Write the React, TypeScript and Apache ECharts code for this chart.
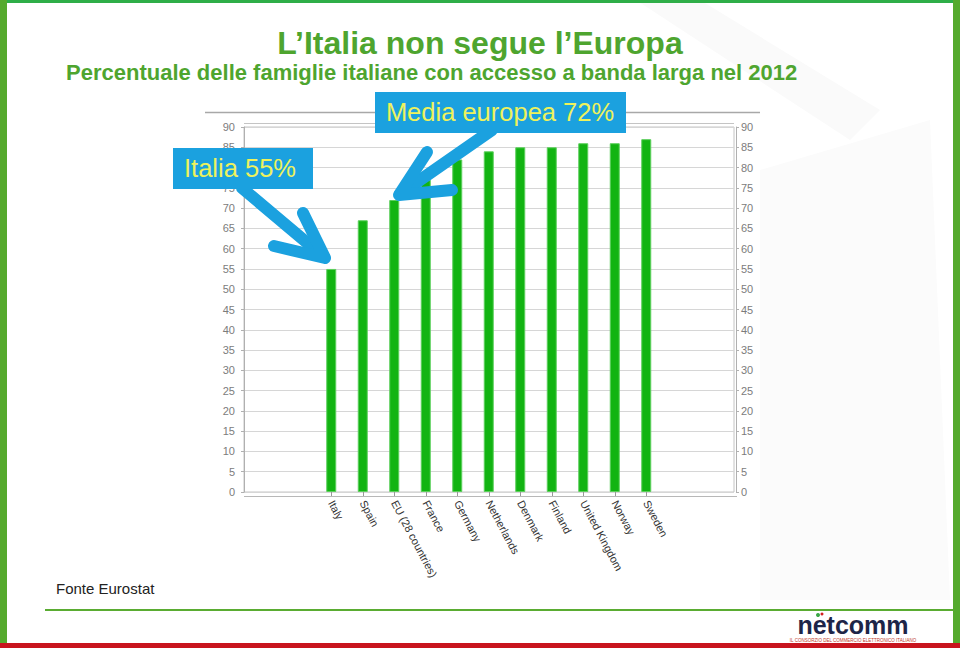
import React, { useEffect, useRef } from "react";
import * as echarts from "echarts";

const categories = [
  "Italy",
  "Spain",
  "EU (28 countries)",
  "France",
  "Germany",
  "Netherlands",
  "Denmark",
  "Finland",
  "United Kingdom",
  "Norway",
  "Sweden",
];
const values = [55, 67, 72, 77, 82, 84, 85, 85, 86, 86, 87];
const yMin = 0;
const yMax = 90;
const yStep = 5;

const titleText = "L\u2019Italia non segue l\u2019Europa";
const subtitleText = "Percentuale delle famiglie italiane con accesso a banda larga nel 2012";
const calloutEU = "Media europea 72%";
const calloutIT = "Italia 55%";
const sourceText = "Fonte Eurostat";

const GREEN_T = "#4ea52f";
const BLUE = "#1ba1df";
const YELLOW = "#eef25c";
const FONT = "Liberation Sans, Arial, sans-serif";

export default function App() {
  const ref = useRef<HTMLDivElement>(null);
  useEffect(() => {
    if (!ref.current) return;
    const chart = echarts.init(ref.current, null, { renderer: "svg" });
    const yLabel = { color: "#7c7c7c", fontSize: 11, fontFamily: FONT };
    const option: any = {
      animation: false,
      backgroundColor: "#ffffff",
      title: [
        {
          text: titleText,
          left: "center",
          top: 27,
          padding: 0,
          textStyle: { color: GREEN_T, fontSize: 32, fontWeight: "bold", fontFamily: FONT },
        },
        {
          text: subtitleText,
          left: 66,
          top: 61,
          padding: 0,
          textStyle: { color: GREEN_T, fontSize: 22, fontWeight: "bold", fontFamily: FONT },
        },
      ],
      grid: [
        {
          left: 244,
          top: 127,
          width: 490,
          height: 365,
          show: true,
          backgroundColor: "#ffffff",
          borderColor: "#c4c4c4",
          borderWidth: 1,
        },
        { left: 315.5, top: 127, width: 346.5, height: 365 },
      ],
      xAxis: [
        { gridIndex: 0, type: "value", min: 0, max: 1, show: false },
        {
          gridIndex: 1,
          type: "category",
          data: categories,
          axisLine: { show: false },
          axisTick: { show: true, alignWithLabel: true, length: 4, lineStyle: { color: "#999" } },
          axisLabel: {
            rotate: -62,
            margin: 9,
            color: "#333",
            fontSize: 11,
            fontFamily: FONT,
            interval: 0,
          },
        },
      ],
      yAxis: [
        {
          gridIndex: 0,
          type: "value",
          position: "left",
          min: yMin,
          max: yMax,
          interval: yStep,
          offset: 3,
          axisLine: { show: true, lineStyle: { color: "#b0b0b0" } },
          axisTick: { show: true, length: 3, lineStyle: { color: "#b0b0b0" } },
          axisLabel: { ...yLabel, margin: 6 },
          splitLine: { show: true, lineStyle: { color: "#d6d6d6" } },
        },
        {
          gridIndex: 0,
          type: "value",
          position: "right",
          min: yMin,
          max: yMax,
          interval: yStep,
          offset: 2,
          axisLine: { show: true, lineStyle: { color: "#b0b0b0" } },
          axisTick: { show: true, length: 3, lineStyle: { color: "#b0b0b0" } },
          axisLabel: { ...yLabel, margin: 5 },
          splitLine: { show: false },
        },
        { gridIndex: 1, type: "value", min: yMin, max: yMax, show: false },
      ],
      series: [
        {
          type: "bar",
          xAxisIndex: 1,
          yAxisIndex: 2,
          data: values,
          barWidth: 10,
          itemStyle: { color: "#12b412", borderColor: "#5ccf5c", borderWidth: 1 },
          z: 3,
        },
      ],
      graphic: {
        elements: [
          // faint background shapes
          {
            type: "polygon",
            z: -5,
            shape: { points: [[636, 0], [700, 0], [880, 110], [850, 140]] },
            style: { fill: "#fafafa" },
          },
          {
            type: "polygon",
            z: -5,
            shape: { points: [[760, 170], [930, 120], [950, 600], [760, 600]] },
            style: { fill: "#fbfbfb" },
          },
          // slide frame
          { type: "rect", shape: { x: 0, y: 0, width: 960, height: 3 }, style: { fill: "#2fae48" } },
          { type: "rect", shape: { x: 0, y: 0, width: 7, height: 643 }, style: { fill: "#55aa2e" } },
          { type: "rect", shape: { x: 953, y: 0, width: 7, height: 643 }, style: { fill: "#55aa2e" } },
          { type: "rect", shape: { x: 0, y: 643, width: 960, height: 5 }, style: { fill: "#c8141e" } },
          { type: "rect", shape: { x: 45, y: 609, width: 908, height: 2 }, style: { fill: "#5aac32" } },
          // chart decoration lines
          { type: "line", shape: { x1: 205, y1: 112.5, x2: 760, y2: 112.5 }, style: { stroke: "#a8a8a8", lineWidth: 1.5 } },
          { type: "line", shape: { x1: 244, y1: 123.5, x2: 734, y2: 123.5 }, style: { stroke: "#c4c4c4", lineWidth: 1 } },
          { type: "line", shape: { x1: 244, y1: 496.5, x2: 737, y2: 496.5 }, style: { stroke: "#b8b8b8", lineWidth: 1 } },
          // arrows
          {
            type: "polyline",
            z: 10,
            shape: { points: [[242, 188], [324, 257]] },
            style: { stroke: BLUE, lineWidth: 12, lineCap: "round", lineJoin: "round", fill: null },
          },
          {
            type: "polyline",
            z: 10,
            shape: { points: [[303, 213], [325, 258], [274, 246]] },
            style: { stroke: BLUE, lineWidth: 12, lineCap: "round", lineJoin: "round", fill: null },
          },
          {
            type: "polyline",
            z: 10,
            shape: { points: [[492, 130], [400, 194]] },
            style: { stroke: BLUE, lineWidth: 12, lineCap: "round", lineJoin: "round", fill: null },
          },
          {
            type: "polyline",
            z: 10,
            shape: { points: [[427, 152], [399, 195], [452, 190]] },
            style: { stroke: BLUE, lineWidth: 12, lineCap: "round", lineJoin: "round", fill: null },
          },
          // callout boxes
          { type: "rect", z: 11, shape: { x: 375, y: 92, width: 251, height: 41 }, style: { fill: BLUE } },
          {
            type: "text",
            z: 12,
            x: 500,
            y: 112,
            style: {
              text: calloutEU,
              fill: YELLOW,
              fontSize: 25.5,
              fontFamily: FONT,
              textAlign: "center",
              textVerticalAlign: "middle",
            },
          },
          { type: "rect", z: 11, shape: { x: 173, y: 148, width: 140, height: 41 }, style: { fill: BLUE } },
          {
            type: "text",
            z: 12,
            x: 240,
            y: 168,
            style: {
              text: calloutIT,
              fill: YELLOW,
              fontSize: 25.5,
              fontFamily: FONT,
              textAlign: "center",
              textVerticalAlign: "middle",
            },
          },
          // source
          {
            type: "text",
            x: 56,
            y: 588,
            style: {
              text: sourceText,
              fill: "#222222",
              fontSize: 15,
              fontFamily: FONT,
              textAlign: "left",
              textVerticalAlign: "middle",
            },
          },
          // logo
          {
            type: "text",
            x: 853,
            y: 625,
            style: {
              text: "netcomm",
              fill: "#1d2548",
              fontSize: 25,
              fontWeight: "bold",
              fontFamily: FONT,
              textAlign: "center",
              textVerticalAlign: "middle",
            },
          },
          { type: "circle", shape: { cx: 818, cy: 615, r: 2 }, style: { fill: "#3aa646" } },
          { type: "circle", shape: { cx: 822, cy: 614, r: 1.5 }, style: { fill: "#d22020" } },
          {
            type: "text",
            x: 853,
            y: 640,
            style: {
              text: "IL CONSORZIO DEL COMMERCIO ELETTRONICO ITALIANO",
              fill: "#c0392b",
              fontSize: 4.5,
              fontFamily: FONT,
              textAlign: "center",
              textVerticalAlign: "middle",
            },
          },
        ],
      },
    };
    chart.setOption(option);
    return () => chart.dispose();
  }, []);
  return (
    <div
      ref={ref}
      style={{ position: "fixed", left: 0, top: 0, width: 960, height: 648, background: "#fff" }}
    />
  );
}
